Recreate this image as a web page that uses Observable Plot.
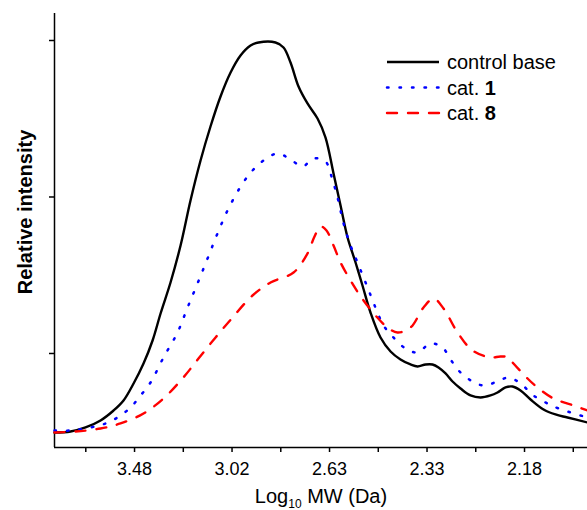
<!DOCTYPE html>
<html><head><meta charset="utf-8">
<script src="https://cdn.jsdelivr.net/npm/d3@7"></script>
<script src="https://cdn.jsdelivr.net/npm/@observablehq/plot@0.6"></script>
<style>body{margin:0;background:#fff} svg{display:block}</style>
</head><body><div id="chart"></div>
<script>
// x axis: equally spaced elution positions, labelled with Log10 MW values
const tickPositions = [10, 20, 30, 40, 50];
const tickLabels = ["3.48", "3.02", "2.63", "2.33", "2.18"];
const minorTicks = [5, 15, 25, 35, 45, 55];
const yTicks = [20, 60, 100];
const xDomain = [1.79, 56.46];
const yDomain = [-4.03, 106.9];

const seriesNames = ["control base", "cat. 1", "cat. 8"];
const seriesColors = ["#000000", "#0000ff", "#ff0000"];

const controlX = [1.79,3.44,4.97,6.51,7.85,8.87,9.9,10.92,11.85,12.67,13.69,14.72,15.74,16.77,17.79,18.82,19.85,20.87,21.9,22.72,24.46,25.28,26.0,26.82,27.74,28.77,29.59,30.41,31.13,31.85,32.67,33.38,34.2,35.23,36.26,37.28,38.31,39.03,39.85,40.56,41.18,41.9,42.62,43.44,44.46,45.49,46.51,47.23,48.05,48.77,49.59,50.62,51.95,53.18,54.41,56.46];
const controlY = [-0.19,0.06,1.09,2.88,5.43,7.99,12.33,17.44,23.32,30.22,38.15,47.6,59.1,69.33,78.02,85.69,91.82,96.17,98.72,99.49,99.49,98.21,94.38,88.24,83.9,80.05,75.2,66.01,57.83,49.65,43.26,37.38,30.48,24.09,20.51,18.47,17.19,16.68,17.19,17.19,16.42,14.89,12.84,11.05,9.27,8.76,9.27,10.03,11.31,11.56,10.54,8.24,5.69,4.41,3.64,2.36];

const cat1X = [1.79,3.44,5.49,7.03,8.26,9.59,10.62,11.64,12.97,14.41,15.44,16.46,17.49,18.51,19.64,21.08,22.1,23.23,24.67,26.0,27.23,28.36,29.59,30.1,30.82,31.44,32.15,32.87,33.9,34.92,35.54,36.56,37.79,39.03,40.36,41.59,42.41,43.44,44.67,45.79,47.23,48.36,49.59,50.92,52.36,53.49,56.46];
const cat1Y = [0.32,0.32,1.09,2.11,3.64,6.2,9.27,12.59,18.98,25.37,31.76,37.9,44.29,50.68,57.07,63.45,66.77,69.33,71.12,69.59,67.8,69.84,69.07,66.01,59.87,53.23,47.6,43.26,36.87,30.48,27.16,24.09,21.28,20.26,22.56,21.53,18.47,15.14,12.84,11.82,12.84,13.86,12.33,9.27,7.22,5.94,3.64];

const cat8X = [1.79,3.95,6.51,8.56,10.92,12.97,14.92,16.56,18.31,20.05,22.1,23.95,26.31,27.74,28.46,29.08,29.69,30.41,31.13,32.46,33.49,34.72,35.95,36.97,38.31,39.64,40.67,41.69,43.13,44.67,46.51,47.54,48.36,48.87,50.31,51.33,52.97,55.03,56.46];
const cat8Y = [-0.19,0.06,0.83,2.11,4.66,8.5,13.61,18.72,24.09,29.2,34.82,38.15,40.7,45.56,49.9,52.46,51.44,47.6,43.26,37.38,33.55,29.71,26.64,25.37,26.64,31.76,34.05,31.5,25.37,20.77,18.98,19.23,18.98,17.44,13.61,11.31,8.5,6.71,5.43];

const rows = (xs, ys) => xs.map((x, i) => ({x, y: ys[i]}));
const controlRows = rows(controlX, controlY);
const cat1Rows = rows(cat1X, cat1Y);
const cat8Rows = rows(cat8X, cat8Y);

const dashes = [null, "1.5,11", "10,11"];
const caps = ["butt", "round", "round"];

const plot = Plot.plot({
  width: 587, height: 510,
  marginLeft: 54, marginRight: 0, marginTop: 13, marginBottom: 63,
  style: {fontFamily: "'Liberation Sans', Arial, sans-serif", fontSize: "18px", color: "#000", background: "#fff"},
  x: {domain: xDomain},
  y: {domain: yDomain},
  marks: [
    Plot.axisX({ticks: minorTicks, tickFormat: () => "", tickSize: 5, label: null, strokeWidth: 1.5}),
    Plot.axisX({ticks: tickPositions, tickFormat: (d) => tickLabels[tickPositions.indexOf(d)], tickSize: 5, tickPadding: 10, fontSize: 18, label: null, strokeWidth: 1.5}),
    Plot.axisY({ticks: yTicks, tickFormat: () => "", tickSize: 5, label: null, strokeWidth: 1.5}),
    Plot.ruleY([yDomain[0]], {stroke: "#000", strokeWidth: 1.5}),
    Plot.ruleX([xDomain[0]], {stroke: "#000", strokeWidth: 1.5}),
    Plot.line(controlRows, {x: "x", y: "y", stroke: seriesColors[0], strokeWidth: 2.4, curve: "catmull-rom"}),
    Plot.line(cat1Rows, {x: "x", y: "y", stroke: seriesColors[1], strokeWidth: 2.5, strokeDasharray: dashes[1], strokeLinecap: "round", curve: "catmull-rom"}),
    Plot.line(cat8Rows, {x: "x", y: "y", stroke: seriesColors[2], strokeWidth: 2.4, strokeDasharray: dashes[2], strokeLinecap: "round", curve: "catmull-rom"})
  ]
});

document.getElementById("chart").appendChild(plot);
const svg = d3.select(plot);
const font = "'Liberation Sans', Arial, sans-serif";

// Legend
const lg = svg.append("g").attr("font-family", font).attr("font-size", 20).attr("fill", "#000").attr("text-anchor", "start");
seriesNames.forEach((name, i) => {
  const y = 62 + i * 25.5;
  lg.append("line").attr("x1", 387).attr("x2", 439).attr("y1", y).attr("y2", y)
    .attr("stroke", seriesColors[i]).attr("stroke-width", i === 1 ? 2.5 : 2.4)
    .attr("stroke-dasharray", dashes[i]).attr("stroke-linecap", caps[i]);
  const t = lg.append("text").attr("x", 447).attr("y", y).attr("dy", "0.35em").attr("text-anchor", "start");
  const m = name.match(/^(cat\. )(\d+)$/);
  if (m) {
    t.append("tspan").text(m[1]);
    t.append("tspan").attr("font-weight", "bold").text(m[2]);
  } else {
    t.text(name);
  }
});

// Axis titles
const xl = svg.append("text").attr("x", 321).attr("y", 503).attr("text-anchor", "middle")
  .attr("font-family", font).attr("font-size", 20).attr("fill", "#000");
xl.append("tspan").text("Log");
xl.append("tspan").attr("font-size", 12).attr("dy", 5).text("10");
xl.append("tspan").attr("dy", -5).text(" MW (Da)");

svg.append("text").attr("transform", "translate(32,212) rotate(-90)").attr("text-anchor", "middle")
  .attr("font-family", font).attr("font-size", 20).attr("font-weight", "bold").attr("fill", "#000")
  .text("Relative intensity");
</script>
</body></html>
